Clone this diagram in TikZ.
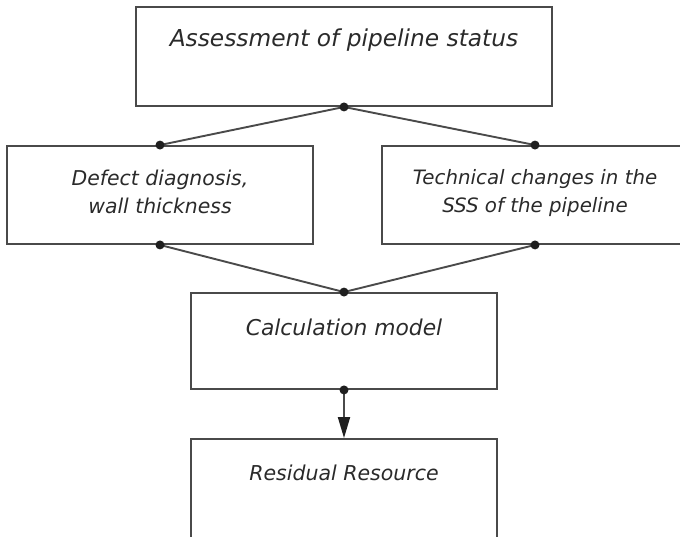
\documentclass[tikz,border=0pt]{standalone}
\usepackage{fontspec}
\usetikzlibrary{arrows.meta}
\newfontfamily\gostfont{DejaVu Sans}
\definecolor{ink}{HTML}{4A4A4A}
\definecolor{txt}{HTML}{2A2A2A}
\begin{document}
\begin{tikzpicture}[x=1pt,y=-1pt,
  box/.style={draw=ink, line width=1.9pt, inner sep=0pt, fill=none},
  lbl/.style={text=txt, inner sep=0pt, align=center, font=\gostfont\itshape\fontsize{#1}{28}\selectfont},
  conn/.style={draw=ink, line width=1.9pt},
  dot/.style={fill=black!88},
  tip/.style={-{Triangle[length=21pt,width=12pt,color=black!88]}}
]
\useasboundingbox (0,0) rectangle (680,536);

% blocks
\node[box, minimum width=416pt, minimum height=99pt] (top)   at (344,56.5) {};
\node[box, minimum width=306pt, minimum height=98pt] (left)  at (160,195) {};
\node[box, minimum width=306pt, minimum height=98pt] (right) at (535,195) {};
\node[box, minimum width=306pt, minimum height=96pt] (calc)  at (344,341) {};
\node[box, minimum width=306pt, minimum height=99pt] (res)   at (344,488.5) {};

% captions
\node[lbl=23.3, anchor=base] (topT)   at (344,46)  {Assessment of pipeline status};
\node[lbl=20.4] (leftT)  at (160,192) {Defect diagnosis,\\wall thickness};
\node[lbl=19.8] (rightT) at (535,193) {Technical changes in the\\SSS of the pipeline};
\node[lbl=21.8, anchor=base] (calcT)  at (344,335) {Calculation model};
\node[lbl=20.5, anchor=base] (resT)   at (344,480) {Residual Resource};

% connectors
\draw[conn] (top.south) -- (left.north);
\draw[conn] (top.south) -- (right.north);
\draw[conn] (left.south) -- (calc.north);
\draw[conn] (right.south) -- (calc.north);
\draw[conn, tip] (calc.south) -- (res.north);

% junction points
\foreach \p in {top.south,left.north,left.south,right.north,right.south,calc.north,calc.south}
  \fill[dot] (\p) circle[radius=4.5pt];
\end{tikzpicture}
\end{document}
